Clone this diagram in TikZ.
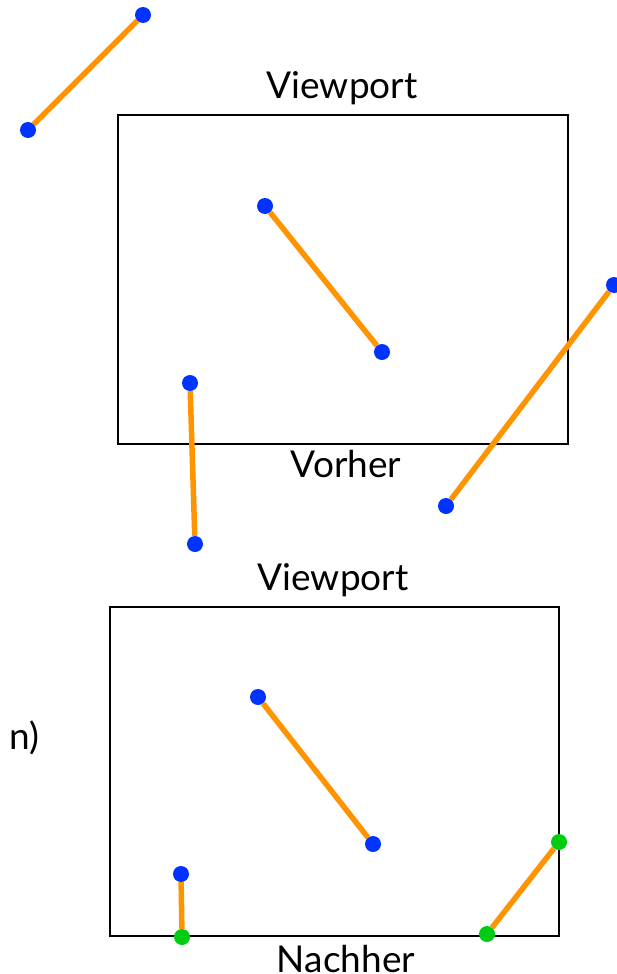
\documentclass[tikz,border=0pt]{standalone}
\usepackage{fontspec}
\setmainfont{Lato}
\usepackage{tikz}
\usetikzlibrary{positioning}
\definecolor{seg}{HTML}{FF9400}
\definecolor{endpt}{HTML}{0033FF}
\definecolor{cutpt}{HTML}{00CC11}

\begin{document}
\begin{tikzpicture}[
  x=1pt,y=-1pt,
  every node/.style={font=\fontsize{37}{42}\selectfont},
  view/.style={draw=black,line width=1.6pt,minimum width=450pt,
               minimum height=329pt,inner sep=0pt},
  dot/.style={circle,fill=endpt,minimum size=16pt,inner sep=0pt},
  cutdot/.style={circle,fill=cutpt,minimum size=16pt,inner sep=0pt},
  segline/.style={seg,line width=5.5pt}
]
\useasboundingbox (0,0) rectangle (616,974);

% before
\node[view] (vp1) at (343,279.5) {};
\node[anchor=base] (top1) at (342,99) {Viewport};
\node[anchor=base] (bot1) at (346,477) {Vorher};

\node[dot] (a1) at (28,130) {};
\node[dot] (a2) at (143,15) {};
\node[dot] (b1) at (265,206) {};
\node[dot] (b2) at (382,352) {};
\node[dot] (c1) at (190,383) {};
\node[dot] (c2) at (195,544) {};
\node[dot] (d1) at (614,285) {};
\node[dot] (d2) at (446,506) {};

\draw[segline] (a1)--(a2);
\draw[segline] (b1)--(b2);
\draw[segline] (c1)--(c2);
\draw[segline] (d1)--(d2);

% after
\node[view,minimum width=449pt] (vp2) at (334.5,771.5) {};
\node[anchor=base] (top2) at (333,590) {Viewport};
\node[anchor=base] (bot2) at (346,972) {Nachher};
\node[anchor=base east,inner sep=0pt] (note) at (40,749) {n)};

\node[dot] (e1) at (258,697) {};
\node[dot] (e2) at (373,844) {};
\node[dot] (f1) at (181,874) {};
\node[cutdot] (f2) at (182,937) {};
\node[cutdot] (g1) at (487,934) {};
\node[cutdot] (g2) at (559,842) {};

\draw[segline] (e1)--(e2);
\draw[segline] (f1)--(f2);
\draw[segline] (g1)--(g2);
\end{tikzpicture}
\end{document}
